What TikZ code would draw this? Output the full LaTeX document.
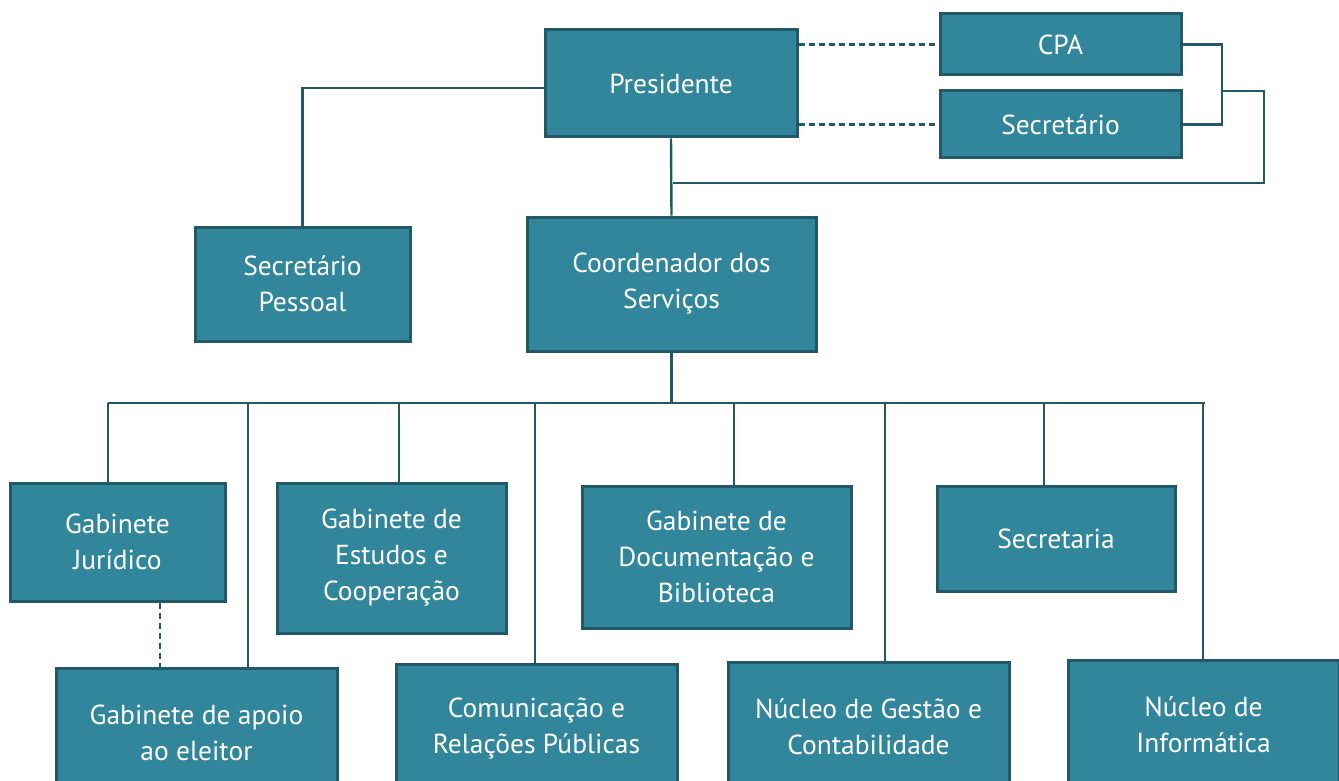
\documentclass[tikz,border=0pt]{standalone}
\usepackage{fontspec}
\setmainfont{PT Sans}
\usepackage{xcolor}
\usepackage{tikz}
\definecolor{boxfill}{HTML}{31869B}
\definecolor{boxline}{HTML}{215968}
\tikzset{
    unit/.style={draw=boxline, fill=boxfill, line width=3pt, inner sep=0pt,
        text=white, align=center, font=\fontsize{27.5}{36}\selectfont},
    link/.style={draw=boxline, line width=2.4pt},
    dlink/.style={link, dashed, dash pattern=on 6pt off 4pt}
}
\begin{document}
\begin{tikzpicture}[x=1pt, y=-1pt]
        \useasboundingbox (0,0) rectangle (1339,781);
        \clip (0,0) rectangle (1339,781);
        % top
        \node[unit, minimum width=252pt, minimum height=107pt] (pres) at (671,83.5) {Presidente};
        \node[unit, minimum width=241pt, minimum height=61pt] (cpa) at (1060.5,44.5) {CPA};
        \node[unit, minimum width=241pt, minimum height=67pt] (sec) at (1060.5,124.5) {Secretário};
        \node[unit, minimum width=215pt, minimum height=114pt] (secp) at (302.5,284) {Secretário\\Pessoal};
        \node[unit, minimum width=289pt, minimum height=134pt] (coord) at (671.5,284) {Coordenador dos\\Serviços};
        % services
        \node[unit, minimum width=215pt, minimum height=118pt] (gj) at (117.5,542) {Gabinete\\Jurídico};
        \node[unit, minimum width=229pt, minimum height=150pt] (ges) at (391.5,558) {Gabinete de\\Estudos e\\Cooperação};
        \node[unit, minimum width=269pt, minimum height=142pt] (gdb) at (716.5,557) {Gabinete de\\Documentação e\\Biblioteca};
        \node[unit, minimum width=238pt, minimum height=105pt] (sect) at (1056,538.5) {Secretaria};
        \node[unit, minimum width=281pt, minimum height=130pt] (gap) at (196.5,733) {Gabinete de apoio\\ao eleitor};
        \node[unit, minimum width=281pt, minimum height=130pt] (crp) at (536.5,729) {Comunicação e\\Relações Públicas};
        \node[unit, minimum width=281pt, minimum height=130pt] (ngc) at (868.5,727) {Núcleo de Gestão e\\Contabilidade};
        \node[unit, minimum width=271pt, minimum height=130pt] (ni) at (1203.5,725) {Núcleo de\\Informática};
        % links
        \coordinate (brk) at (1222,91);
        \coordinate (join) at (673,183);
        \coordinate (busL) at (108,403);
        \coordinate (busR) at (1205,403);
        \draw[link] ([yshift=-4.5pt]pres.west) -| (secp.north);
        \draw[link] (pres.south) -- (coord.north);
        \draw[dlink] (pres.east |- cpa.west) -- (cpa.west);
        \draw[dlink] (pres.east |- sec.west) -- (sec.west);
        \draw[link] (cpa.east) -| (brk |- sec.east) -- (sec.east);
        \draw[link] (brk) -- (1264,91) |- (join);
        \draw[link] (coord.south) -- (coord.south |- busL);
        \draw[link] (busL) -- (busR);
        \foreach \x/\n in {108/gj, 248/gap, 399/ges, 535/crp, 734/gdb, 885/ngc, 1044/sect, 1203/ni}
            \draw[link] (\x,0 |- busL) -- (\x,0 |- \n.north);
        \draw[dlink] (160,0 |- gj.south) -- (160,0 |- gap.north);
    \end{tikzpicture}
\end{document}
